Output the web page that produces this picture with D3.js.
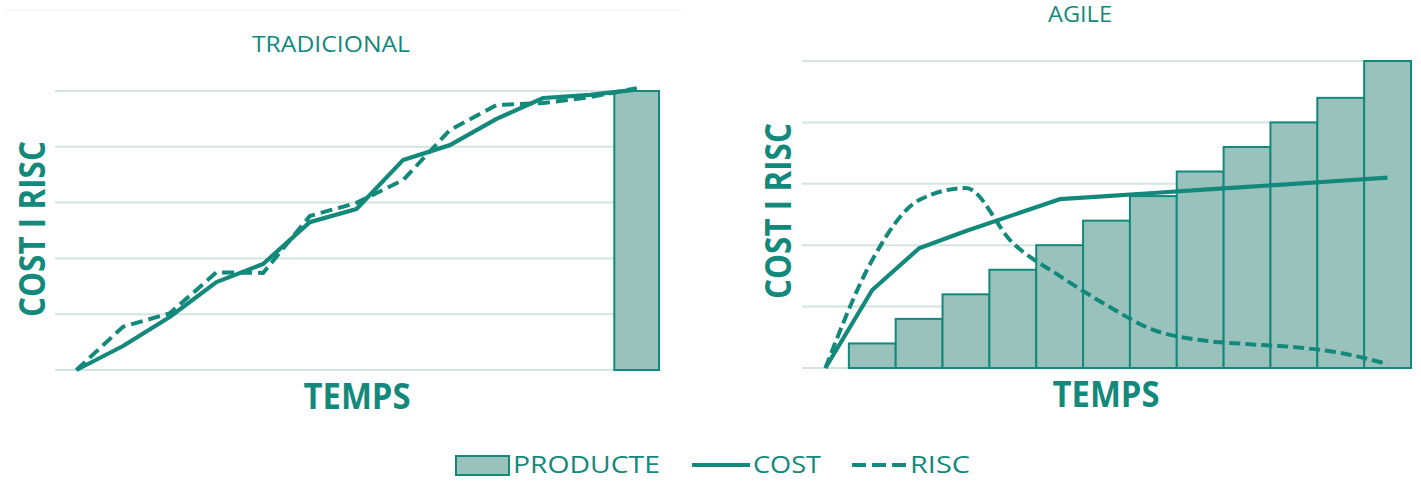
<!DOCTYPE html>
<html>
<head>
<meta charset="utf-8">
<script src="https://cdn.jsdelivr.net/npm/d3@7"></script>
<style>
  body { margin: 0; background: #fff; }
  text { font-family: "Open Sans", sans-serif; fill: #13897c; }
</style>
</head>
<body>
<div id="chart"></div>
<script>
var svgWidth = 1421;
var svgHeight = 481;

var teal = "#13897c";
var barFill = "#99c2bd";
var gridColor = "#d3e4e1";

// 13 time steps, no tick labels shown
var periods = ["t1","t2","t3","t4","t5","t6","t7","t8","t9","t10","t11","t12","t13"];
var yTicks = [0, 20, 40, 60, 80, 100];

// TRADICIONAL
var tradProducte = [null, null, null, null, null, null, null, null, null, null, null, null, 100];
var tradCost = [0, 8.6, 19, 31.5, 38, 53, 57.7, 75.3, 80.6, 90, 97.5, 98.6, 100.5];
var tradRisc = [0, 15.5, 20.3, 35, 34.8, 55.2, 59.9, 68.1, 86, 95, 95.7, 97.8, 101];

// AGILE
var agileProducte = [null, 8, 16, 24, 32, 40, 48, 56, 64, 72, 80, 88, 100];
var agileCost = [0, 25.4, 39, 44.6, 49.8, 55, 56, 57, 58, 59, 60, 61, 62];
var agileRisc = [0, 35.2, 54.7, 58.6, 40.7, 30, 20.5, 12.4, 9.1, 7.8, 6.8, 4.9, 1.3];

var svg = d3.select("#chart").append("svg").attr("width", svgWidth).attr("height", svgHeight);

// faint frame line on top of the left chart
svg.append("line").attr("x1", 5).attr("x2", 682).attr("y1", 10).attr("y2", 10)
    .attr("stroke", "#eef3f2").attr("stroke-width", 1);

// narrow the text horizontally so it takes the width of the original (Calibri-like) lettering
function label(parent, txt, x, y, width, size, anchor, bold, rotate) {
    var g = parent.append("g");
    var t = g.append("text").attr("font-size", size).attr("text-anchor", anchor)
        .attr("font-weight", bold ? "bold" : "normal").text(txt);
    var k = width / t.node().getComputedTextLength();
    g.attr("transform", `translate(${x},${y}) rotate(${rotate || 0}) scale(${k},1)`);
    return g;
}

function drawPanel(opt) {
    var x = d3.scaleBand().domain(periods).range(opt.xRange);
    var y = d3.scaleLinear().domain([0, 100]).range(opt.yRange);
    var g = svg.append("g");

    g.selectAll(".grid").data(yTicks).enter().append("line")
        .attr("x1", opt.gridStart).attr("x2", opt.xRange[1])
        .attr("y1", d => y(d)).attr("y2", d => y(d))
        .attr("stroke", gridColor).attr("stroke-width", 2);

    var bars = periods.map((p, i) => ({p: p, v: opt.producte[i]})).filter(d => d.v != null);
    g.selectAll(".bar").data(bars).enter().append("rect")
        .attr("x", d => x(d.p) + opt.barInset)
        .attr("width", x.bandwidth() - 2 * opt.barInset)
        .attr("y", d => y(d.v))
        .attr("height", d => y(0) - y(d.v))
        .attr("fill", barFill).attr("stroke", teal).attr("stroke-width", 2);

    var cx = d => x(d.p) + x.bandwidth() / 2;

    var costLine = d3.line().x(cx).y(d => y(d.v));
    g.append("path").datum(periods.map((p, i) => ({p: p, v: opt.cost[i]})))
        .attr("d", costLine).attr("fill", "none").attr("stroke", teal)
        .attr("stroke-width", 4.2).attr("stroke-linejoin", "round");

    var riscLine = d3.line().x(cx).y(d => y(d.v)).curve(opt.riscCurve);
    g.append("path").datum(periods.map((p, i) => ({p: p, v: opt.risc[i]})))
        .attr("d", riscLine).attr("fill", "none").attr("stroke", teal)
        .attr("stroke-width", 4).attr("stroke-dasharray", opt.dash);

    label(g, opt.titleText, opt.title[0], opt.title[1], opt.title[2], 22, "middle", false);
    label(g, "COST I RISC", opt.yLabel[0], opt.yLabel[1], 176, 36, "middle", true, -90);
    label(g, "TEMPS", opt.xLabel[0], opt.xLabel[1], 107, 36, "middle", true);
}

drawPanel({
    xRange: [53, 660], yRange: [370, 91], gridStart: 55, barInset: 1,
    producte: tradProducte, cost: tradCost, risc: tradRisc,
    riscCurve: d3.curveLinear, dash: "12,6",
    titleText: "TRADICIONAL", title: [331, 52, 158],
    yLabel: [45, 229], xLabel: [357, 409]
});

drawPanel({
    xRange: [802, 1411], yRange: [368, 61], gridStart: 802, barInset: 0,
    producte: agileProducte, cost: agileCost, risc: agileRisc,
    riscCurve: d3.curveMonotoneX, dash: "11,5",
    titleText: "AGILE", title: [1080, 22, 64],
    yLabel: [791, 211], xLabel: [1106, 407]
});

// legend
var legend = svg.append("g");
legend.append("rect").attr("x", 456).attr("y", 456).attr("width", 53).attr("height", 19)
    .attr("fill", barFill).attr("stroke", teal).attr("stroke-width", 2);
label(legend, "PRODUCTE", 513, 473, 147, 24, "start", false);
legend.append("line").attr("x1", 692).attr("x2", 750).attr("y1", 465).attr("y2", 465)
    .attr("stroke", teal).attr("stroke-width", 4.2);
label(legend, "COST", 753, 473, 68, 24, "start", false);
legend.append("line").attr("x1", 852).attr("x2", 906).attr("y1", 465).attr("y2", 465)
    .attr("stroke", teal).attr("stroke-width", 4).attr("stroke-dasharray", "14,6");
label(legend, "RISC", 910, 473, 60, 24, "start", false);
</script>
</body>
</html>
